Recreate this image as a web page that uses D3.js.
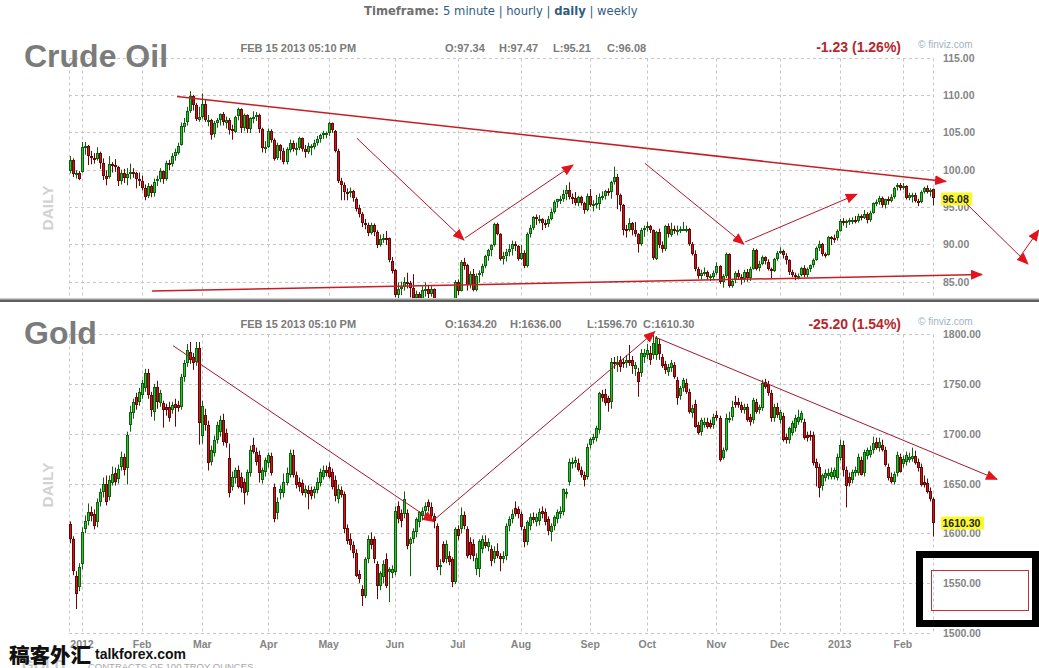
<!DOCTYPE html>
<html><head><meta charset="utf-8">
<script src="https://cdnjs.cloudflare.com/ajax/libs/d3/7.8.5/d3.min.js"></script>
<style>body{margin:0;background:#fff}svg{display:block}</style>
</head><body>
<svg id="c" width="1039" height="668"></svg>
<script>
// ---------------- DATA ----------------
const startDate = "2011-12-27", endDate = "2013-02-15";
const holidays = ["2012-01-02","2012-01-16","2012-02-20","2012-04-06","2012-05-28","2012-07-04","2012-09-03","2012-11-22","2012-12-25","2013-01-01","2013-01-21"];
const monthTicks = ["2012-01","2012-02","2012-03","2012-04","2012-05","2012-06","2012-07","2012-08","2012-09","2012-10","2012-11","2012-12","2013-01","2013-02"];
const monthLabels = ["2012","Feb","Mar","Apr","May","Jun","Jul","Aug","Sep","Oct","Nov","Dec","2013","Feb"];
const crudeTicks = [85,90,95,100,105,110,115];
const goldTicks = [1500,1550,1600,1650,1700,1750,1800];

const crudeOpen = [
99.8,101.3,99.4,99.6,
99.7,102.9,103.2,101.8,101.5,101.4,102.2,100.9,99.1,98.9,100.7,100.6,100.4,98.5,99.6,98.9,99.4,99.7,99.6,98.8,
98.5,97.6,96.4,97.8,96.9,98.4,98.7,99.8,98.7,100.9,100.7,101.8,102.3,103.3,105.8,106.3,107.8,109.8,108.6,106.7,
107.1,108.8,106.7,106.7,104.7,106.2,106.6,107.4,106.3,106.7,105.4,105.1,107.1,108.1,105.6,107.3,105.4,106.9,107.0,107.3,105.4,102.8,
103.0,105.2,104.0,101.5,103.3,102.5,101.0,102.7,103.6,102.8,102.9,104.2,102.7,102.3,103.1,103.1,103.6,104.1,104.6,104.9,
104.9,106.2,105.2,102.5,98.5,97.9,97.0,96.8,97.1,96.1,94.8,94.0,92.8,92.6,91.5,92.6,91.7,89.9,90.7,90.9,90.8,87.8,
86.5,83.2,84.0,84.3,85.0,84.8,84.1,82.7,83.3,82.6,83.9,84.0,83.3,84.0,81.8,78.2,79.8,79.2,79.4,80.2,77.7,
85.0,83.8,87.7,87.2,84.5,86.0,83.9,85.8,86.1,87.1,88.4,89.2,89.9,92.7,91.4,88.1,88.5,89.0,89.4,90.1,89.8,
88.1,88.9,87.1,91.4,92.2,93.7,93.4,93.4,92.9,92.7,93.4,94.3,95.6,96.0,96.0,96.7,97.3,96.3,96.2,95.5,96.3,95.5,94.6,
96.5,95.3,95.4,95.5,96.4,96.5,97.2,97.0,98.3,99.0,96.6,95.3,92.0,91.9,92.9,91.9,91.4,90.0,91.9,
92.2,92.5,91.9,88.1,91.7,89.9,89.3,92.4,91.3,92.1,91.9,91.9,92.1,92.1,92.1,90.1,88.7,86.7,85.7,86.1,86.3,85.6,85.7,
86.2,87.1,84.9,85.7,88.7,84.4,85.1,86.1,85.6,85.4,86.3,85.5,86.7,89.3,86.8,87.4,88.3,87.7,86.7,86.5,88.1,
88.9,89.1,88.5,87.9,86.3,85.9,85.6,85.8,86.8,85.9,86.7,87.2,87.9,89.5,90.1,88.7,88.6,91.0,90.9,90.8,
91.8,93.1,92.9,93.1,93.2,93.2,93.1,93.8,93.6,94.1,93.3,94.2,95.5,95.6,96.2,95.2,96.0,95.9,96.4,97.6,97.9,
97.5,97.8,96.2,96.6,96.6,95.8,95.7,97.0,97.5,97.0,97.34];
const crudeHigh = [
101.8,101.5,99.9,99.8,
103.7,103.7,103.3,102.5,102.2,103.0,102.4,101.5,99.9,101.8,101.0,101.4,100.5,100.0,100.1,100.2,100.8,100.2,99.7,99.6,
99.2,98.0,98.2,98.0,98.8,99.2,100.2,99.9,101.2,101.3,102.2,102.8,103.6,106.3,106.9,108.4,110.5,110.0,108.9,108.4,
110.2,109.3,107.3,106.8,106.5,106.9,107.5,107.7,107.1,106.9,106.0,107.2,108.3,108.2,107.5,107.4,107.0,107.8,107.7,107.5,105.6,103.8,
105.5,105.4,104.2,103.6,103.4,102.9,103.0,104.0,103.9,103.6,104.4,104.3,103.3,103.6,103.4,104.0,104.5,104.8,105.2,105.1,
106.4,106.3,105.3,102.8,98.9,98.3,97.5,97.6,97.3,96.3,95.3,94.3,93.4,92.9,92.9,92.8,91.9,91.3,91.4,91.8,90.9,88.3,
86.7,84.9,85.0,85.6,86.2,85.1,86.0,83.8,83.6,84.4,84.9,84.5,84.4,84.1,81.9,80.1,80.0,80.2,80.6,80.4,85.2,
85.3,87.9,88.2,87.4,86.4,86.7,86.1,86.5,87.4,88.6,89.4,90.0,92.9,92.9,91.5,89.0,89.4,90.0,90.5,90.4,89.9,
89.9,89.2,91.6,92.6,93.8,94.0,93.9,93.5,93.3,93.8,94.8,95.9,96.1,96.5,97.3,97.9,98.3,96.8,97.0,96.5,96.5,95.7,96.8,
97.4,95.9,96.6,96.8,97.1,97.3,97.5,98.5,100.4,99.4,96.8,95.4,92.6,93.5,93.0,93.0,91.5,92.2,92.5,
93.0,92.6,92.0,91.8,92.1,90.4,92.6,92.8,92.9,92.5,92.5,92.4,93.0,92.5,92.2,90.3,89.2,87.0,86.6,86.9,86.5,86.0,86.5,
87.6,87.2,86.0,88.9,88.8,85.4,86.4,86.6,86.0,86.6,86.7,87.0,89.5,89.4,87.8,88.5,88.4,88.0,86.9,88.2,89.1,
89.6,89.3,88.8,88.0,86.6,86.2,86.1,87.0,87.2,86.9,87.3,88.1,89.7,90.5,90.2,88.9,91.1,91.1,91.3,92.0,
93.4,93.5,93.3,93.5,93.6,93.8,94.1,94.0,94.6,94.3,94.5,95.6,96.0,96.5,96.4,96.1,96.4,96.7,97.7,98.2,98.2,
98.2,97.9,96.9,96.9,96.9,96.1,97.2,97.7,97.9,97.5,97.47];
const crudeLow = [
99.5,99.0,98.8,98.6,
99.6,102.0,100.6,100.7,100.8,101.2,100.1,98.6,97.9,98.8,99.6,99.7,97.8,98.0,98.2,97.9,98.7,98.9,97.5,97.8,
97.2,95.9,96.2,96.3,96.4,97.8,98.3,98.1,98.5,99.9,100.4,101.2,102.0,103.2,105.0,105.9,107.6,107.9,106.5,106.4,
106.8,106.4,105.8,104.0,104.3,105.6,105.9,105.9,105.5,104.7,104.0,104.9,106.6,104.9,105.2,104.9,104.9,106.2,106.5,104.9,102.3,102.2,
102.9,103.6,101.2,101.3,101.3,100.7,100.7,102.3,102.4,101.9,102.6,102.4,101.6,102.1,101.9,102.7,103.2,103.6,104.1,104.2,
104.5,104.9,102.3,98.2,95.9,95.9,95.9,96.3,95.7,94.4,93.6,92.3,92.0,91.1,91.3,91.1,89.5,89.7,90.2,89.9,87.6,86.1,
82.9,82.6,83.2,83.8,84.1,82.9,82.5,81.9,81.7,82.2,83.0,82.6,83.0,81.2,78.0,77.8,78.8,78.9,79.0,77.3,77.6,
83.2,83.7,86.6,83.8,84.1,83.7,83.7,84.9,85.7,86.8,87.8,88.4,89.7,91.2,87.8,87.3,87.7,88.4,88.5,89.1,87.8,
87.9,86.8,86.9,90.9,91.9,92.6,92.8,91.9,92.2,92.3,93.2,94.1,94.9,95.4,95.7,95.9,96.0,95.4,95.2,95.1,95.2,94.1,94.4,
95.0,94.4,94.8,94.6,95.9,96.0,96.5,96.1,98.0,94.7,94.4,91.2,90.9,91.7,91.2,91.0,88.9,89.8,91.0,
91.7,91.5,87.9,87.9,89.5,88.9,89.1,90.9,91.0,91.4,91.2,91.5,91.8,91.6,89.8,88.5,86.4,85.4,85.3,85.8,85.3,85.1,85.2,
85.9,84.7,84.2,85.5,84.2,84.2,84.8,85.3,84.6,84.9,85.0,85.1,86.6,86.5,86.4,87.2,87.3,86.5,85.4,86.3,87.8,
88.7,88.1,87.3,85.9,85.6,85.2,85.3,85.7,85.6,85.6,86.3,86.9,87.8,89.1,88.4,88.2,88.5,89.9,90.2,90.5,
91.7,92.5,92.2,92.6,92.7,92.8,92.9,93.2,93.4,92.8,93.0,94.1,95.1,95.3,94.9,94.8,95.3,95.6,96.1,97.2,97.2,
97.3,96.0,95.9,95.6,95.6,95.1,95.5,96.8,96.8,96.4,95.21];
const crudeClose = [
101.3,99.4,99.6,98.8,
103.0,103.2,101.8,101.6,101.3,102.2,100.9,99.1,98.7,100.7,100.6,100.4,98.5,99.6,98.9,99.4,99.7,99.6,98.8,98.5,
97.6,96.4,97.8,96.9,98.4,98.7,99.8,98.7,100.9,100.7,101.8,102.3,103.2,105.8,106.3,107.8,109.8,108.6,106.7,107.1,
108.8,106.7,106.7,104.7,106.2,106.6,107.4,106.3,106.7,105.4,105.1,107.1,108.1,105.6,107.3,105.4,106.9,107.0,107.3,105.4,102.8,103.0,
105.2,104.0,101.5,103.3,102.5,101.0,102.7,103.6,102.8,102.9,104.2,102.7,102.3,103.1,103.1,103.6,104.1,104.6,104.9,104.9,
106.2,105.2,102.5,98.5,97.9,97.0,96.8,97.1,96.1,94.8,94.0,92.8,92.6,91.5,92.6,91.7,89.9,90.7,90.9,90.8,87.8,86.5,
83.2,84.0,84.3,85.0,84.8,84.1,82.7,83.3,82.6,83.9,84.0,83.3,84.0,81.8,78.2,79.8,79.2,79.4,80.2,77.7,85.0,
83.8,87.7,87.2,84.5,86.0,83.9,85.8,86.1,87.1,88.4,89.2,89.9,92.7,91.4,88.1,88.5,89.0,89.4,90.1,89.8,88.1,
88.9,87.1,91.4,92.2,93.7,93.4,93.4,92.9,92.7,93.4,94.3,95.6,96.0,96.0,96.7,97.3,96.3,96.2,95.5,96.3,95.5,94.6,96.5,
95.3,95.4,95.5,96.4,96.5,97.2,97.0,98.3,99.0,96.6,95.3,92.0,91.9,92.9,91.9,91.4,90.0,91.9,92.2,
92.5,91.9,88.1,91.7,89.9,89.3,92.4,91.3,92.1,91.9,91.9,92.1,92.1,92.1,90.1,88.7,86.7,85.7,86.1,86.3,85.6,85.7,86.2,
87.1,84.9,85.7,88.7,84.4,85.1,86.1,85.6,85.4,86.3,85.5,86.7,89.3,86.8,87.4,88.3,87.7,86.7,86.5,88.1,88.9,
89.1,88.5,87.9,86.3,85.9,85.6,85.8,86.8,85.9,86.7,87.2,87.9,89.5,90.1,88.7,88.6,91.0,90.9,90.8,91.8,
93.1,92.9,93.1,93.2,93.2,93.1,93.8,93.6,94.1,93.3,94.2,95.5,95.6,96.2,95.2,96.0,95.9,96.4,97.6,97.9,97.5,
97.8,96.2,96.6,96.6,95.8,95.7,97.0,97.5,97.0,97.3,96.08];

const goldOpen = [
1609,1594,1557,1546,1569,1604,1612,1621,1619,1611, 1631,1641,1649,1637,1651,1661,1655,1667,1677,1666,
1709,1721,1737,1732,1739,1746,1761,1739,1722,1747, 1731,1731,1727,1727,1724,1730,1729,1727,1757,1771,
1782,1777,1772,1786,1698,1719,1709,1672,1681,1694, 1702,1714,1701,1676,1647,1656,1664,1657,1652,1642,
1661,1689,1682,1679,1654,1662,1671,1678,1646,1620, 1640,1641,1651,1659,1679,1659,1652,1651,1640,1643,
1643,1640,1644,1651,1657,1664,1667,1662,1654,1634, 1643,1639,1605,1594,1588,1580,1559,1544,1537,1574,
1594,1594,1569,1547,1556,1574,1561,1560,1561,1627, 1620,1619,1620,1589,1594,1601,1611,1617,1622,1631,
1626,1617,1607,1566,1589,1574,1577,1574,1551,1604, 1604,1618,1604,1591,1589,1564,1564,1584,1591,1586,
1584,1574,1582,1577,1574,1577,1607,1614,1625,1624, 1619,1604,1591,1607,1616,1611,1612,1622,1621,1614,
1601,1607,1614,1619,1621,1639,1652,1670,1671,1671, 1664,1659,1657,1689,1694,1696,1704,1740,1740,1736,
1732,1772,1769,1774,1772,1771,1774,1774,1765,1762, 1761,1777,1779,1781,1779,1779,1790,1777,1770,1762,
1766,1769,1754,1738,1746,1751,1742,1721,1730,1709, 1702,1709,1712,1711,1709,1719,1716,1676,1684,1715,
1717,1732,1732,1729,1724,1727,1717,1714,1732,1724, 1726,1752,1750,1741,1716,1727,1714,1718,1697,1694,
1701,1706,1712,1714,1712,1699,1699,1699,1672,1667, 1648,1656,1658,1657,1657,1656,1676,1689,1664,1657,
1654,1661,1661,1674,1661,1678,1679,1684,1692,1686, 1689,1684,1667,1657,1652,1661,1677,1670,1672,1674,
1675,1678,1672,1667,1652,1651,1642,1634.2];
const goldHigh = [
1612,1597,1562,1570,1606,1618,1630,1627,1624,1635, 1645,1656,1658,1658,1667,1666,1669,1682,1680,1702,
1728,1735,1741,1746,1754,1765,1765,1742,1750,1753, 1744,1733,1730,1732,1732,1735,1733,1760,1774,1790,
1792,1781,1792,1792,1733,1725,1713,1688,1698,1712, 1718,1720,1705,1690,1662,1666,1668,1661,1655,1664,
1688,1696,1686,1683,1666,1676,1681,1681,1650,1636, 1648,1660,1666,1684,1684,1662,1656,1654,1648,1648,
1647,1647,1656,1665,1668,1668,1671,1665,1658,1649, 1647,1642,1609,1600,1592,1584,1563,1548,1576,1598,
1601,1597,1572,1562,1573,1580,1566,1568,1627,1632, 1624,1642,1624,1596,1605,1616,1622,1626,1631,1634,
1631,1620,1610,1574,1592,1593,1582,1576,1606,1608, 1626,1622,1607,1596,1594,1580,1594,1598,1598,1595,
1588,1587,1590,1580,1582,1610,1617,1624,1632,1627, 1622,1607,1613,1620,1621,1620,1625,1627,1625,1617,
1610,1618,1624,1627,1645,1645,1675,1676,1677,1675, 1667,1662,1690,1696,1700,1708,1742,1744,1745,1738,
1776,1777,1778,1778,1776,1779,1789,1778,1772,1766, 1785,1785,1790,1788,1799,1798,1795,1780,1773,1770,
1774,1772,1757,1748,1756,1755,1745,1729,1734,1712, 1716,1716,1716,1714,1720,1723,1718,1686,1720,1722,
1733,1738,1736,1732,1730,1730,1720,1736,1735,1729, 1754,1755,1753,1744,1730,1731,1724,1721,1700,1707,
1713,1719,1724,1723,1715,1702,1703,1702,1675,1670, 1660,1664,1665,1666,1666,1680,1694,1693,1667,1661,
1664,1667,1680,1677,1684,1686,1688,1697,1696,1696, 1694,1687,1670,1661,1662,1682,1680,1678,1682,1681,
1686,1683,1675,1670,1658,1655,1646,1636];
const goldLow = [
1590,1558,1524,1542,1564,1600,1608,1612,1604,1606, 1627,1636,1628,1633,1648,1648,1650,1663,1658,1649,
1702,1715,1724,1728,1735,1742,1735,1717,1713,1725, 1727,1706,1718,1712,1720,1707,1722,1724,1752,1767,
1770,1764,1768,1689,1690,1703,1663,1668,1677,1690, 1697,1688,1686,1636,1643,1650,1645,1641,1629,1638,
1657,1680,1668,1651,1650,1657,1666,1658,1611,1614, 1634,1636,1648,1656,1656,1645,1642,1638,1636,1624,
1634,1635,1640,1647,1654,1657,1655,1644,1632,1630, 1636,1600,1589,1583,1575,1556,1550,1527,1535,1570,
1584,1570,1534,1543,1550,1545,1531,1555,1558,1610, 1606,1615,1584,1557,1590,1596,1606,1613,1618,1622,
1613,1605,1563,1558,1570,1570,1568,1546,1549,1593, 1600,1604,1575,1574,1572,1558,1556,1580,1585,1582,
1567,1570,1575,1562,1570,1573,1602,1610,1617,1615, 1603,1586,1588,1603,1610,1607,1608,1615,1608,1598,
1592,1603,1610,1615,1618,1635,1648,1665,1666,1662, 1656,1647,1654,1685,1690,1692,1700,1732,1728,1722,
1725,1765,1762,1762,1766,1766,1768,1760,1758,1737, 1757,1771,1775,1769,1775,1774,1774,1766,1760,1758,
1762,1755,1729,1734,1742,1740,1720,1716,1706,1699, 1698,1706,1705,1705,1705,1713,1672,1674,1682,1711,
1713,1726,1726,1721,1720,1712,1708,1710,1720,1720, 1723,1745,1738,1712,1712,1716,1710,1692,1690,1690,
1698,1702,1709,1711,1694,1692,1693,1668,1647,1636, 1643,1652,1654,1654,1654,1653,1673,1657,1626,1647,
1650,1657,1658,1658,1657,1674,1676,1680,1684,1682, 1682,1667,1653,1650,1649,1657,1661,1666,1668,1671,
1672,1669,1662,1647,1646,1640,1632,1596.7];
const goldClose = [
1594,1562,1539,1566,1601,1612,1621,1617,1607,1631, 1641,1649,1631,1654,1660,1652,1665,1677,1664,1699,
1722,1732,1729,1742,1751,1761,1739,1724,1747,1732, 1741,1724,1724,1716,1729,1726,1726,1757,1771,1784,
1774,1771,1786,1711,1728,1709,1671,1684,1694,1709, 1714,1692,1691,1641,1657,1664,1647,1646,1641,1662,
1684,1682,1672,1661,1664,1674,1679,1661,1614,1631, 1644,1652,1661,1681,1659,1649,1647,1641,1644,1639,
1637,1644,1652,1662,1664,1661,1657,1647,1638,1644, 1638,1604,1592,1588,1580,1557,1554,1537,1574,1594,
1588,1574,1547,1560,1569,1547,1564,1564,1622,1614, 1612,1634,1587,1594,1602,1614,1621,1622,1627,1626,
1617,1612,1566,1568,1571,1589,1571,1551,1604,1597, 1618,1607,1577,1578,1577,1575,1592,1594,1587,1591,
1572,1582,1577,1574,1577,1607,1614,1619,1619,1619, 1606,1591,1611,1616,1613,1616,1621,1619,1611,1602,
1607,1616,1621,1622,1644,1641,1672,1672,1674,1664, 1659,1654,1687,1695,1697,1706,1741,1736,1731,1731,
1772,1771,1772,1767,1770,1774,1771,1768,1769,1752, 1781,1781,1784,1774,1791,1796,1780,1768,1764,1767,
1771,1757,1736,1746,1754,1742,1722,1726,1707,1701, 1714,1712,1707,1707,1717,1716,1674,1684,1716,1716,
1727,1729,1729,1724,1727,1714,1712,1734,1722,1727, 1751,1747,1741,1716,1727,1719,1722,1694,1694,1706,
1711,1716,1717,1721,1696,1696,1697,1671,1666,1646, 1659,1661,1661,1662,1664,1677,1689,1664,1648,1651,
1662,1664,1677,1659,1682,1684,1684,1691,1686,1692, 1684,1669,1656,1652,1660,1679,1662,1675,1679,1677,
1678,1671,1666,1649,1649,1642,1634,1610.3];

// header texts
const crudeHeader = ["O:97.34","H:97.47","L:95.21","C:96.08"];
const goldHeader = ["O:1634.20","H:1636.00","L:1596.70","C:1610.30"];
const crudeChange = "-1.23 (1.26%)", goldChange = "-25.20 (1.54%)";
const crudeLast = 96.08, goldLast = 1610.30;

// hand-drawn annotation segments in (candle index, price)
const crudeTrendLines = [[[35.6,109.78],[291.3,98.41]], [[27.3,83.76],[303.3,85.96]]];
const crudeArrows = [[[95.4,104.19],[131.0,90.58]], [[131.4,90.85],[167.3,100.62]], [[191.2,100.84],[224.1,90.04]],
                     [[224.5,90.31],[261.7,96.70]], [[298.0,95.49],[318.6,87.37]], [[315.9,88.31],[322.2,91.92]]];
const goldArrows = [[[34.25,1788.3],[121.05,1611.7]], [[121.05,1613.4],[194.5,1802.3]], [[194.5,1797.0],[308.3,1654.2]]];

// ---------------- RENDER ----------------
const svg = d3.select("#c");
const fmt = d3.utcFormat("%Y-%m-%d");
const dates = d3.utcDays(new Date(startDate+"T00:00:00Z"), d3.utcDay.offset(new Date(endDate+"T00:00:00Z"),1))
  .filter(d => d.getUTCDay()!==0 && d.getUTCDay()!==6 && !holidays.includes(fmt(d)));
const N = dates.length;
[["crudeOpen",crudeOpen],["crudeHigh",crudeHigh],["crudeLow",crudeLow],["crudeClose",crudeClose],
 ["goldOpen",goldOpen],["goldHigh",goldHigh],["goldLow",goldLow],["goldClose",goldClose]].forEach(([n,a])=>{
  if (a.length!==N) throw new Error(n+" length "+a.length+" != "+N);
});
const x = d3.scaleLinear().domain([0, N-1]).range([70, 933]);
const monthIdx = monthTicks.map(m => dates.findIndex(d => fmt(d).slice(0,7)===m));

const SANS = "'Liberation Sans', Arial, sans-serif";
const GRID = "#c6c6c6", LBL = "#858585";
const defs = svg.append("defs");
defs.append("marker").attr("id","ah").attr("viewBox","0 0 12 10").attr("refX",11).attr("refY",5)
  .attr("markerWidth",12).attr("markerHeight",10).attr("markerUnits","userSpaceOnUse").attr("orient","auto")
  .append("path").attr("d","M0,0 L12,5 L0,10 Z").attr("fill","#e3121b");
defs.append("clipPath").attr("id","clipCrude").append("rect").attr("x",0).attr("y",40).attr("width",1039).attr("height",258);
defs.append("clipPath").attr("id","clipGold").append("rect").attr("x",0).attr("y",320).attr("width",1039).attr("height",320);

// top navigation
const nav = svg.append("text").attr("x",364).attr("y",15).attr("font-family","'DejaVu Sans', Verdana, sans-serif")
  .attr("font-size",11.6).attr("fill","#2f5d80");
nav.append("tspan").text("Timeframe: ").attr("font-weight","bold").attr("fill","#707070");
nav.append("tspan").text("5 minute | hourly | ");
nav.append("tspan").text("daily").attr("font-weight","bold");
nav.append("tspan").text(" | weekly");

function panel(o) {
  const g = svg.append("g");
  const y = d3.scaleLinear().domain(o.domain).range(o.range);
  const yTop = Math.round(y(o.ticks[o.ticks.length-1]))+0.5;
  // horizontal grid
  g.selectAll(null).data(o.ticks).join("line")
    .attr("x1",69).attr("x2",933).attr("y1",d=>Math.round(y(d))+0.5).attr("y2",d=>Math.round(y(d))+0.5)
    .attr("stroke",GRID).attr("stroke-dasharray","3,3");
  // vertical grid
  const vx = [69.5, ...monthIdx.map(i=>Math.round(x(i))+0.5), 933.5];
  g.selectAll(null).data(vx).join("line")
    .attr("x1",d=>d).attr("x2",d=>d).attr("y1",yTop).attr("y2",o.bottom)
    .attr("stroke",GRID).attr("stroke-dasharray","3,3");
  // title
  g.append("text").attr("x",24).attr("y",o.titleY).text(o.title).attr("font-family",SANS)
    .attr("font-weight","bold").attr("font-size",32).attr("fill","#7b7b7b");
  // header line
  const hy = o.headY;
  g.append("text").attr("x",240.5).attr("y",hy).text("FEB 15 2013 05:10 PM").attr("font-family",SANS)
    .attr("font-weight","bold").attr("font-size",11).attr("fill","#7a7a7a");
  g.selectAll(null).data(o.header).join("text").attr("x",(d,i)=>o.headX[i]).attr("y",hy).text(d=>d)
    .attr("font-family",SANS).attr("font-weight","bold").attr("font-size",11).attr("fill","#7a7a7a");
  g.append("text").attr("x",901).attr("y",hy+0.5).attr("text-anchor","end").text(o.change).attr("font-family",SANS)
    .attr("font-weight","bold").attr("font-size",14).attr("fill","#b5272d");
  g.append("text").attr("x",918).attr("y",hy-3.5).text("\u00a9 finviz.com").attr("font-family",SANS)
    .attr("font-size",10).attr("fill","#9fb3c3");
  // DAILY
  g.append("text").attr("transform",`translate(${53},${o.dailyY}) rotate(-90)`).attr("text-anchor","middle")
    .text("DAILY").attr("font-family",SANS).attr("font-weight","bold").attr("font-size",15.5).attr("fill","#d2d2d2");
  // y labels
  g.selectAll(null).data(o.ticks).join("text").attr("x",943).attr("y",d=>y(d)+4).text(d=>d.toFixed(2))
    .attr("font-family",SANS).attr("font-weight","bold").attr("font-size",10.5).attr("fill",LBL);
  // candles
  const cg = g.append("g").attr("clip-path",`url(#${o.clip})`);
  const idx = d3.range(N);
  const up = i => o.C[i] >= o.O[i];
  cg.selectAll(null).data(idx).join("line")
    .attr("x1",i=>Math.round(x(i))+0.5).attr("x2",i=>Math.round(x(i))+0.5)
    .attr("y1",i=>y(o.H[i])).attr("y2",i=>y(o.L[i]))
    .attr("stroke",i=>up(i)?"#0d620d":"#6d0707").attr("stroke-width",1);
  cg.selectAll(null).data(idx).join("rect")
    .attr("x",i=>Math.round(x(i))-0.5).attr("width",2)
    .attr("y",i=>Math.round(Math.min(y(o.O[i]),y(o.C[i])))+0.5)
    .attr("height",i=>Math.max(1,Math.round(Math.abs(y(o.O[i])-y(o.C[i])))-1))
    .attr("fill",i=>up(i)?"#2fbf2f":"#bf1d1d").attr("stroke",i=>up(i)?"#0d620d":"#6d0707").attr("stroke-width",1);
  // last price box
  const ly = y(o.last);
  const lt = o.last.toFixed(2);
  const bw = lt.length*5.85+2;
  g.append("rect").attr("x",941).attr("y",ly-6.5).attr("width",bw).attr("height",13).attr("fill","#fafa2a");
  g.append("text").attr("x",942.5).attr("y",ly+4).text(lt).attr("font-family",SANS).attr("font-weight","bold")
    .attr("font-size",10.5).attr("fill","#222");
  return y;
}

const yCrude = panel({title:"Crude Oil", titleY:67, headY:51.5, header:crudeHeader, headX:[445,499,553,607],
  change:crudeChange, dailyY:208, domain:[85,115], range:[281.7,57.5], ticks:crudeTicks, bottom:298,
  O:crudeOpen,H:crudeHigh,L:crudeLow,C:crudeClose, last:crudeLast, clip:"clipCrude"});
const yGold = panel({title:"Gold", titleY:343.5, headY:328, header:goldHeader, headX:[445,510,587,643],
  change:goldChange, dailyY:485, domain:[1500,1800], range:[633,334], ticks:goldTicks, bottom:633,
  O:goldOpen,H:goldHigh,L:goldLow,C:goldClose, last:goldLast, clip:"clipGold"});

// separator between panels
svg.append("rect").attr("x",0).attr("y",298.5).attr("width",1039).attr("height",1.5).attr("fill","#9a9a9a");
svg.append("rect").attr("x",0).attr("y",300).attr("width",1039).attr("height",2).attr("fill","#5e5e5e");

// x labels
svg.selectAll(null).data(monthIdx).join("text").attr("x",i=>x(i)).attr("y",648).attr("text-anchor","middle")
  .text((d,k)=>monthLabels[k]).attr("font-family",SANS).attr("font-weight","bold").attr("font-size",10.5).attr("fill",LBL);
svg.append("text").attr("x",22).attr("y",670).text("GOLD").attr("font-family",SANS).attr("font-weight","bold")
  .attr("font-size",15).attr("fill","#c9c9c9");
svg.append("text").attr("x",88).attr("y",669.5).text("CONTRACTS OF 100 TROY OUNCES").attr("font-family",SANS)
  .attr("font-size",9.5).attr("fill","#a8a8a8");

// annotations
function seg(list, y, color, w) {
  svg.append("g").selectAll(null).data(list).join("line")
    .attr("x1",d=>x(d[0][0])).attr("y1",d=>y(d[0][1])).attr("x2",d=>x(d[1][0])).attr("y2",d=>y(d[1][1]))
    .attr("stroke",color).attr("stroke-width",w).attr("marker-end","url(#ah)");
}
seg(crudeTrendLines, yCrude, "#c81d25", 1.5);
seg(crudeArrows, yCrude, "#b3162a", 1);
seg(goldArrows, yGold, "#a3182e", 1);

// boxes
svg.append("rect").attr("x",919.5).attr("y",554.5).attr("width",116).attr("height",69)
  .attr("fill","none").attr("stroke","#000").attr("stroke-width",7);
svg.append("rect").attr("x",931.5).attr("y",570.5).attr("width",97).attr("height",40)
  .attr("fill","none").attr("stroke","#c0303a").attr("stroke-width",1);

// watermark
svg.append("text").attr("x",9).attr("y",663).text("稿客外汇").attr("font-family","'Noto Sans CJK SC', sans-serif")
  .attr("font-weight",900).attr("font-size",20.5).attr("fill","#111");
svg.append("text").attr("x",95).attr("y",659).text("talkforex.com").attr("font-family",SANS)
  .attr("font-weight","bold").attr("font-size",14).attr("fill","#111");
</script>
</body></html>
